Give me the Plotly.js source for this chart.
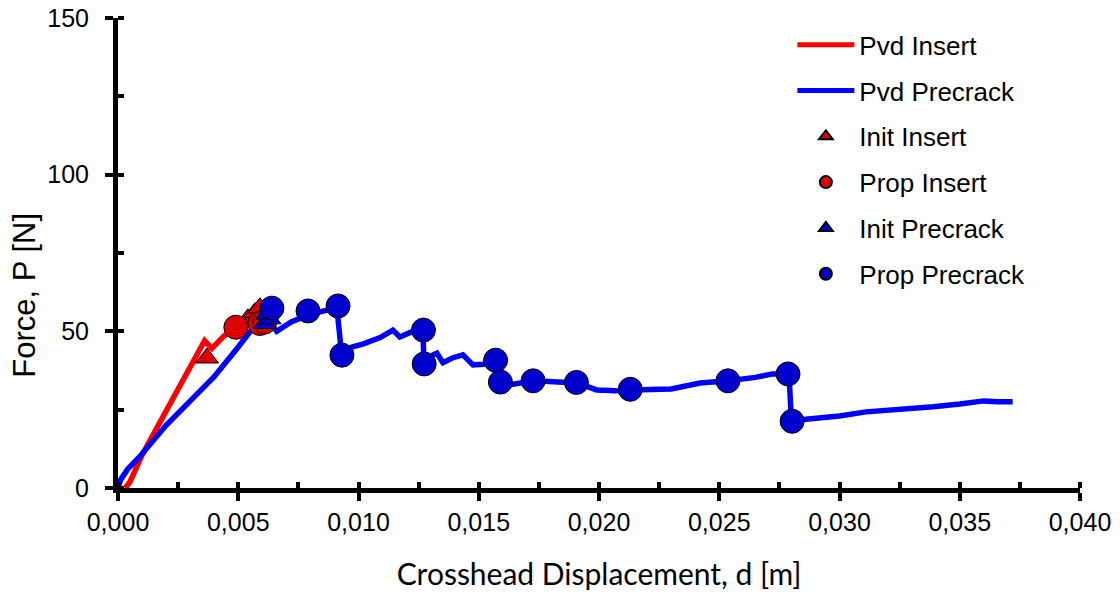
<!DOCTYPE html>
<html>
<head>
<meta charset="utf-8">
<script src="https://cdn.plot.ly/plotly-3.0.1.min.js"></script>
<style>html,body{margin:0;padding:0;background:#fff}#chart{width:1120px;height:594px}</style>
</head>
<body>
<div id="chart"></div>
<script>
// Pvd Insert (red line)
const insertD = [0.0003,0.0005,0.0010,0.0020,0.0030,0.0036,0.0039,0.0044,0.0049,0.0054,0.0058,0.0061];
const insertP = [0,2,10.5,24.5,38,47,44.5,48.5,51.3,53.5,56,57];
// Pvd Precrack (blue line)
const precrackD = [0.0000,0.0001,0.0004,0.0009,0.0020,0.0030,0.0040,0.0050,0.0055,0.0060,0.0063,0.0066,0.0072,0.0080,0.0086,0.0091,0.0093,0.0096,0.0102,0.0109,0.01143,0.01172,0.0122,0.01268,0.01272,0.0131,0.01326,0.01351,0.0139,0.01434,0.01476,0.0152,0.0156,0.0159,0.0163,0.0167,0.0173,0.0179,0.0185,0.0191,0.0199,0.0207,0.0213,0.0223,0.0230,0.0242,0.0254,0.0265,0.0272,0.0279,0.0280,0.0287,0.0300,0.0311,0.0325,0.0339,0.0350,0.0360,0.0366,0.0372];
const precrackP = [0,2.5,6,10,20,27.5,35.5,45,50,52,53,50,53,55.5,56.5,57.5,42.5,44.7,46,48,50.4,48.2,49.8,50.4,39.9,42.5,43,40,41.5,42.5,39.3,39.5,40.9,33.8,33,33.5,34.2,34,33.8,33.5,31.3,31,31.3,31.5,31.6,33.5,34.2,35.3,36.4,36.4,21.4,22,23,24.3,25,25.9,26.8,27.8,27.5,27.5];
// Init Insert (red triangles)
const initInsertD = [0.0037,0.0054,0.0057,0.0059,0.0060];
const initInsertP = [41.5,54,56,57.5,53];
// Prop Insert (red circles)
const propInsertD = [0.0049,0.0059,0.0061];
const propInsertP = [51.3,52.5,53];
// Init Precrack (blue triangles)
const initPrecrackD = [0.0061,0.0063,0.0062];
const initPrecrackP = [52.5,54,55.5];
// Prop Precrack (blue circles)
const propPrecrackD = [0.0064,0.0079,0.00915,0.00931,0.01270,0.01273,0.0157,0.0159,0.01726,0.01906,0.0213,0.02536,0.02786,0.02803];
const propPrecrackP = [57.4,56.5,58.1,42.4,50.4,39.6,40.8,33.8,34.2,33.7,31.5,34.2,36.4,21.3];

const xTicks = [0,0.005,0.010,0.015,0.020,0.025,0.030,0.035,0.040];
const yTicks = [0,50,100,150];
const xTitle = 'Crosshead Displacement, d [m]';
const yTitle = 'Force, P [N]';

const redLine = 'rgb(255,0,0)', blueLine = 'rgb(0,0,255)';
const redMark = 'rgb(220,0,0)', blueMark = 'rgb(0,0,204)';
const mk = (sym, col, size) => ({symbol: sym, color: col, size: size, line: {color: '#000', width: 1}});

const traces = [
  {x: insertD, y: insertP, name: 'Pvd Insert', mode: 'lines', line: {color: redLine, width: 5.5}, legendgroup: 'a'},
  {x: precrackD, y: precrackP, name: 'Pvd Precrack', mode: 'lines', line: {color: blueLine, width: 5.5}, legendgroup: 'b'},
  {x: initInsertD, y: initInsertP, name: 'Init Insert', mode: 'markers', marker: mk('triangle-up', redMark, 20), legendgroup: 'c'},
  {x: propInsertD, y: propInsertP, name: 'Prop Insert', mode: 'markers', marker: mk('circle', redMark, 24), legendgroup: 'd'},
  {x: initPrecrackD, y: initPrecrackP, name: 'Init Precrack', mode: 'markers', marker: mk('triangle-up', blueMark, 20), legendgroup: 'e'},
  {x: propPrecrackD, y: propPrecrackP, name: 'Prop Precrack', mode: 'markers', marker: mk('circle', blueMark, 24), legendgroup: 'f'}
];

const arial = 'Liberation Sans, Arial, sans-serif';
const tickFont = {family: arial, size: 25, color: '#000'};
const layout = {
  width: 1120, height: 594,
  margin: {l: 118, r: 40, t: 18, b: 106},
  paper_bgcolor: '#fff', plot_bgcolor: '#fff',
  separators: ',.',
  showlegend: true,
  legend: {x: 0.701, y: 0.993, xanchor: 'left', yanchor: 'top', font: {family: arial, size: 26, color: '#000'},
           bgcolor: 'rgba(0,0,0,0)', itemsizing: 'constant', itemwidth: 57, tracegroupgap: 9},
  xaxis: {range: [0, 0.040], tickvals: xTicks, tickformat: '.3f', showgrid: false, zeroline: false,
          showline: true, linecolor: '#000', linewidth: 5, ticks: 'outside', ticklen: 8, tickwidth: 4, tickcolor: '#000',
          tickfont: tickFont,
          minor: {dtick: 0.0025, tick0: 0, ticks: 'inside', ticklen: 6, tickwidth: 4, tickcolor: '#000', showgrid: false},
          title: {text: xTitle, font: {family: 'Lato, Open Sans, sans-serif', size: 30, color: '#000'}, standoff: 30}},
  yaxis: {range: [0, 150], tickvals: yTicks, showgrid: false, zeroline: false,
          showline: true, linecolor: '#000', linewidth: 5, ticks: 'outside', ticklen: 8, tickwidth: 4, tickcolor: '#000',
          tickfont: tickFont, ticklabelstandoff: 11,
          minor: {dtick: 25, tick0: 0, ticks: 'inside', ticklen: 6, tickwidth: 4, tickcolor: '#000', showgrid: false}},
  xaxis2: {range: [0, 0.040], tickvals: xTicks, overlaying: 'x', anchor: 'y', side: 'bottom', showticklabels: false, showgrid: false,
           zeroline: false, showline: false, ticks: 'inside', ticklen: 8, tickwidth: 4, tickcolor: '#000'},
  yaxis2: {range: [0, 150], tickvals: yTicks, overlaying: 'y', anchor: 'x', side: 'left', showticklabels: false, showgrid: false,
           zeroline: false, showline: false, ticks: 'inside', ticklen: 8, tickwidth: 4, tickcolor: '#000'},
  annotations: [
    {text: yTitle, xref: 'paper', yref: 'paper', x: 0, y: 0.409, xanchor: 'center', yanchor: 'middle', xshift: -93,
     textangle: -90, showarrow: false, font: {family: arial, size: 31, color: '#000'}}
  ]
};

Plotly.newPlot('chart', traces, layout, {displayModeBar: false, staticPlot: true});
</script>
</body>
</html>
